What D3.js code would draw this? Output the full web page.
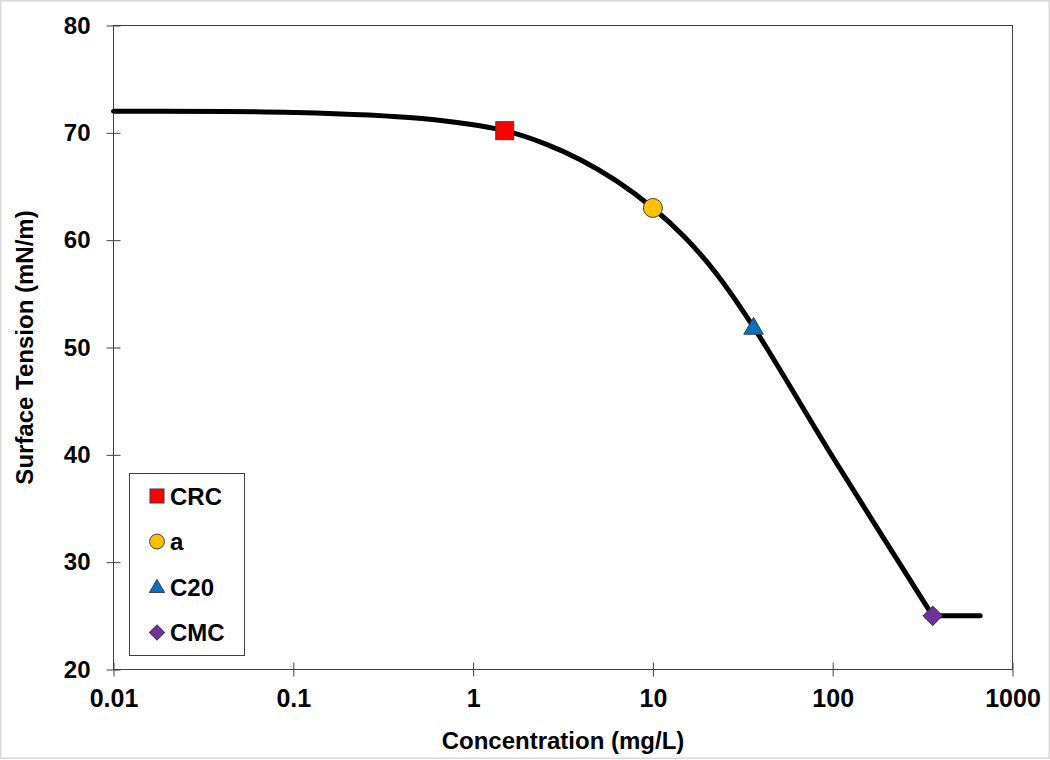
<!DOCTYPE html>
<html>
<head>
<meta charset="utf-8">
<script src="https://cdn.jsdelivr.net/npm/d3@7"></script>
<style>
  html, body { margin: 0; padding: 0; background: #fff; }
  svg { display: block; }
  text { font-family: "Liberation Sans", Arial, sans-serif; font-weight: bold; fill: #000; }
</style>
</head>
<body>
<svg id="chart" width="1050" height="760"></svg>
<script>
// ---- data ----
// smooth isotherm up to the CMC
const curveConc = [0.01, 0.1, 0.5, 1.5, 2.5, 4, 6.3, 10, 15, 22.5, 36.3, 100, 360];
const curveTension = [72, 71.9, 71.35, 70.2, 69.0, 67.45, 65.5, 63.0, 60.3, 56.9, 51.9, 39.8, 25.0];
// plateau above the CMC
const plateauConc = [360, 661];
const plateauTension = [25.0, 25.0];

const pointNames = ["CRC", "a", "C20", "CMC"];
const pointConc = [1.5, 10, 36.3, 360];
const pointTension = [70.2, 63.0, 51.9, 25.0];
const pointColors = ["#FF0000", "#FFC000", "#0070C0", "#7030A0"];

const xTicks = [0.01, 0.1, 1, 10, 100, 1000];
const xTickLabels = ["0.01", "0.1", "1", "10", "100", "1000"];
const yTicks = [20, 30, 40, 50, 60, 70, 80];

const xTitle = "Concentration (mg/L)";
const yTitle = "Surface Tension (mN/m)";

// ---- layout ----
const svg = d3.select("#chart");
const pL = 113.5, pR = 1012.5, pT = 25.5, pB = 669.5;

svg.append("rect").attr("x", 0.75).attr("y", 0.75).attr("width", 1048.5).attr("height", 757.5)
  .attr("fill", "#fff").attr("stroke", "#d9d9d9").attr("stroke-width", 1.5);

const x = d3.scaleLog().domain([0.01, 1000]).range([pL, pR]);
const y = d3.scaleLinear().domain([20, 80]).range([pB, pT]);

// frame
svg.append("rect").attr("x", pL).attr("y", pT).attr("width", pR - pL).attr("height", pB - pT)
  .attr("fill", "none").attr("stroke", "#404040").attr("stroke-width", 1);

// x axis
const xAxis = svg.append("g").attr("transform", `translate(0,${pB})`)
  .call(d3.axisBottom(x).tickValues(xTicks).tickFormat((d, i) => xTickLabels[i]).tickSize(7).tickPadding(13));
xAxis.select(".domain").remove();
xAxis.selectAll(".tick line").attr("y1", -7).attr("y2", 7).attr("stroke", "#404040");
xAxis.selectAll(".tick text").attr("font-size", 25).attr("font-family", "Liberation Sans, Arial, sans-serif").attr("font-weight", "bold").attr("fill", "#000");

// y axis
const yAxis = svg.append("g").attr("transform", `translate(${pL},0)`)
  .call(d3.axisLeft(y).tickValues(yTicks).tickFormat(d3.format("d")).tickSize(7).tickPadding(16));
yAxis.select(".domain").remove();
yAxis.selectAll(".tick line").attr("x1", -7).attr("x2", 7).attr("stroke", "#404040");
yAxis.selectAll(".tick text").attr("font-size", 24).attr("font-family", "Liberation Sans, Arial, sans-serif").attr("font-weight", "bold").attr("fill", "#000");

// titles
svg.append("text").attr("x", 563).attr("y", 749).attr("text-anchor", "middle")
  .attr("font-size", 24).text(xTitle);
svg.append("text").attr("transform", `translate(33,${(pT + pB) / 2}) rotate(-90)`).attr("text-anchor", "middle")
  .attr("font-size", 24).text(yTitle);

// curve
const curveData = curveConc.map((c, i) => [c, curveTension[i]]);
const plateauData = plateauConc.map((c, i) => [c, plateauTension[i]]);
const smooth = d3.line().x(d => x(d[0])).y(d => y(d[1])).curve(d3.curveCatmullRom.alpha(0.5));
const straight = d3.line().x(d => x(d[0])).y(d => y(d[1]));
[[curveData, smooth], [plateauData, straight]].forEach(([data, gen]) => {
  svg.append("path").datum(data).attr("d", gen).attr("fill", "none")
    .attr("stroke", "#000").attr("stroke-width", 5).attr("stroke-linecap", "round").attr("stroke-linejoin", "round");
});

// markers
function marker(sel, i, scale) {
  const s = scale;
  if (i === 0) {
    sel.append("rect").attr("x", -9 * s).attr("y", -9 * s).attr("width", 18 * s).attr("height", 18 * s);
  } else if (i === 1) {
    sel.append("circle").attr("r", 9.5 * s);
  } else if (i === 2) {
    sel.append("path").attr("d", d3.symbol().type(d3.symbolTriangle).size(165 * s * s)()).attr("transform", `translate(0,${1.5 * s})`);
  } else {
    sel.append("path").attr("d", d3.symbol().type(d3.symbolSquare).size(185 * s * s)()).attr("transform", "rotate(45)");
  }
  sel.selectAll("*").attr("fill", pointColors[i]).attr("stroke", "#404040").attr("stroke-width", 1);
}
pointNames.forEach((name, i) => {
  const g = svg.append("g").attr("transform", `translate(${x(pointConc[i])},${y(pointTension[i])})`);
  marker(g, i, 1);
});

// legend
const lg = svg.append("g");
lg.append("rect").attr("x", 129.5).attr("y", 473.5).attr("width", 115).attr("height", 182)
  .attr("fill", "#fff").attr("stroke", "#404040").attr("stroke-width", 1);
pointNames.forEach((name, i) => {
  const cy = 496 + i * 45.5;
  const g = lg.append("g").attr("transform", `translate(157,${cy})`);
  marker(g, i, 0.78);
  lg.append("text").attr("x", 170).attr("y", cy).attr("dy", "0.36em").attr("font-size", 24).text(name);
});
</script>
</body>
</html>
